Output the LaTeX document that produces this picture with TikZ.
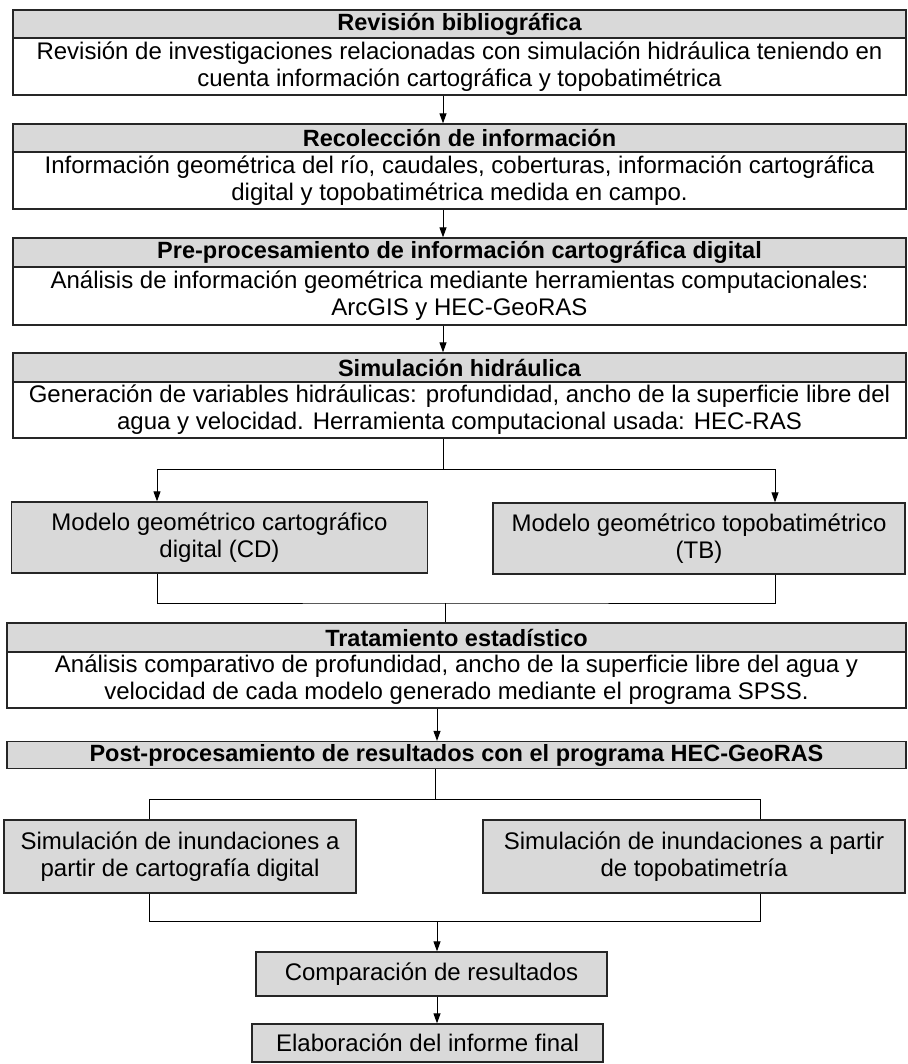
\documentclass[tikz,border=0pt]{standalone}
\usepackage{fontspec}
\setmainfont{Liberation Sans}
\usetikzlibrary{arrows.meta}
\begin{document}
\begin{tikzpicture}[x=1pt,y=-1pt,
  box/.style={draw=black!85, line width=1.3pt, inner sep=0pt, align=center,
    font=\fontsize{24}{27}\selectfont},
  hdr/.style={box, fill=gray!30, font=\fontsize{23.5}{27}\selectfont\bfseries},
  body/.style={box, fill=white},
  gbox/.style={box, fill=gray!30},
  conn/.style={draw=black, line width=1pt},
  arr/.style={conn, -{Triangle[length=10pt,width=7pt]}}]
\useasboundingbox (0,0) rectangle (907,1064);
% column coordinates
\coordinate (ax) at (443,0);
\coordinate (cdL) at (157,0);
\coordinate (cdR) at (775,0);
\coordinate (sL) at (149,0);
\coordinate (sR) at (760,0);
% box 1
\node[hdr, minimum width=893pt, minimum height=28pt] (h1) at (459.5,24) {Revisión bibliográfica};
\node[body, minimum width=893pt, minimum height=57pt] (b1) at (459.5,66.5) {Revisión de investigaciones relacionadas con simulación hidráulica teniendo en\\cuenta información cartográfica y topobatimétrica};
% box 2
\node[hdr, minimum width=893pt, minimum height=28pt] (h2) at (459.5,138) {Recolección de información};
\node[body, minimum width=893pt, minimum height=57pt] (b2) at (459.5,180.5) {Información geométrica del río, caudales, coberturas, información cartográfica\\digital y topobatimétrica medida en campo.};
% box 3
\node[hdr, minimum width=893pt, minimum height=29pt] (h3) at (459.5,252.5) {Pre-procesamiento de información cartográfica digital};
\node[body, minimum width=893pt, minimum height=58pt] (b3) at (459.5,296) {Análisis de información geométrica mediante herramientas computacionales:\\ArcGIS y HEC-GeoRAS};
% box 4
\node[hdr, minimum width=893pt, minimum height=29pt] (h4) at (459.5,367.5) {Simulación hidráulica};
\node[body, minimum width=893pt, minimum height=56pt] (b4) at (459.5,410) {Generación de variables hidráulicas: profundidad, ancho de la superficie libre del\\agua y velocidad. Herramienta computacional usada: HEC-RAS};
% model boxes
\node[gbox, minimum width=416pt, minimum height=71pt] (mL) at (219.5,537.5) {Modelo geométrico cartográfico\\digital (CD)};
\node[gbox, minimum width=412pt, minimum height=71pt] (mR) at (699,538.5) {Modelo geométrico topobatimétrico\\(TB)};
% box 5
\node[hdr, minimum width=899pt, minimum height=29pt] (h5) at (456.5,637.5) {Tratamiento estadístico};
\node[body, minimum width=899pt, minimum height=56pt] (b5) at (456.5,680) {Análisis comparativo de profundidad, ancho de la superficie libre del agua y\\velocidad de cada modelo generado mediante el programa SPSS.};
% post
\node[hdr, minimum width=899pt, minimum height=27pt] (h6) at (456.5,755) {Post-procesamiento de resultados con el programa HEC-GeoRAS};
% simulation boxes
\node[gbox, minimum width=352pt, minimum height=73pt] (sbL) at (180,856.5) {Simulación de inundaciones a\\partir de cartografía digital};
\node[gbox, minimum width=422pt, minimum height=73pt] (sbR) at (694,856.5) {Simulación de inundaciones a partir\\de topobatimetría};
% final boxes
\node[gbox, minimum width=351pt, minimum height=44pt] (cmp) at (431.5,974) {Comparación de resultados};
\node[gbox, minimum width=351pt, minimum height=38pt] (elab) at (427.5,1043) {Elaboración del informe final};
% connectors
\draw[arr] (b1.south -| ax) -- (h2.north -| ax);
\draw[arr] (b2.south -| ax) -- (h3.north -| ax);
\draw[arr] (b3.south -| ax) -- (h4.north -| ax);
\coordinate (br1) at (443,469);
\draw[conn] (b4.south -| br1) -- (br1);
\draw[arr] (br1) -| (mL.north -| cdL);
\draw[arr] (br1) -| (mR.north -| cdR);
\coordinate (mg1) at (445,603);
\draw[conn] (mL.south -| cdL) |- (mg1) -| (mR.south -| cdR);
\draw[conn] (mg1) -- (h5.north -| mg1);
\coordinate (ax2) at (437,0);
\draw[arr] (b5.south -| ax2) -- (h6.north -| ax2);
\coordinate (br2) at (435,799);
\draw[conn] (h6.south -| br2) -- (br2);
\draw[conn] (br2) -| (sbL.north -| sL);
\draw[conn] (br2) -| (sbR.north -| sR);
\coordinate (mg2) at (437,921);
\draw[conn] (sbL.south -| sL) |- (mg2) -| (sbR.south -| sR);
\draw[arr] (mg2) -- (cmp.north -| mg2);
\draw[arr] (cmp.south -| ax2) -- (elab.north -| ax2);
\end{tikzpicture}
\end{document}
